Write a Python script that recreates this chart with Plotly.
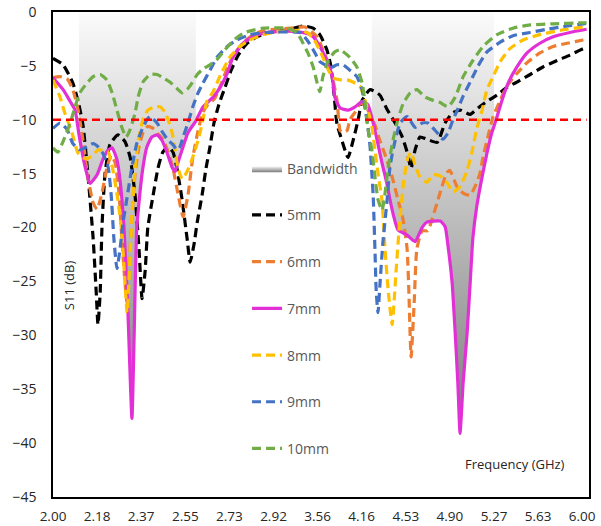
import plotly.graph_objects as go

# ---------------- data ----------------
# x positions are category-axis positions (0 = "2.00", 1 = "2.18", ... 12 = "6.00")
TICK_POS = list(range(13))
TICK_LABELS = ["2.00", "2.18", "2.37", "2.55", "2.73", "2.92", "3.56",
               "4.16", "4.53", "4.90", "5.27", "5.63", "6.00"]

X5 = [0, 0.23, 0.45, 0.57, 0.68, 0.79, 0.91, 0.98, 1.02, 1.07, 1.11, 1.18, 1.29, 1.47, 1.63, 1.75, 1.86, 1.95,
      2.02, 2.09, 2.15, 2.27, 2.38, 2.49, 2.61, 2.72, 2.81, 2.93, 3.04, 3.11, 3.20, 3.27, 3.38, 3.47, 3.56, 3.65,
      3.76, 3.90, 4.04, 4.20, 4.40, 4.63, 4.92, 5.37, 5.67, 5.90, 6.05, 6.21, 6.30, 6.37, 6.44, 6.55, 6.69, 6.80,
      6.92, 7.01, 7.19, 7.41, 7.57, 7.76, 7.91, 8.03, 8.12, 8.21, 8.32, 8.48, 8.71, 8.89, 9.05, 9.23, 9.46, 9.64,
      9.84, 10.07, 10.29, 10.52, 10.82, 11.11, 11.43, 11.72, 12.02, 12.1]
S5 = [-4.3, -4.9, -6.6, -8.3, -10.5, -15, -21, -26, -29, -26, -20, -15, -12.3, -11.4, -12, -13.5, -17, -22,
      -26.6, -24, -20, -17, -14.5, -13, -12.5, -13, -14.5, -17.5, -21, -23.2, -21.5, -19.5, -17, -14.5, -12.5, -10.3,
      -8.6, -7, -5.4, -4, -2.9, -2.3, -1.9, -1.6, -1.3, -1.5, -2.1, -3.5, -5, -7.5, -10.4, -11.9, -13.5, -12,
      -10, -8.2, -7.2, -7.7, -9, -10.3, -11.5, -13, -14.5, -12.8, -11.6, -11.8, -12.1, -10.3, -9.4, -9.1, -9.5, -8.9,
      -8.3, -7.7, -7, -6.5, -5.8, -5.1, -4.5, -4, -3.4, -3.3]

X6 = [0, 0.16, 0.32, 0.45, 0.57, 0.68, 0.79, 0.91, 1.00, 1.11, 1.22, 1.32, 1.41, 1.50, 1.56, 1.63, 1.68, 1.72,
      1.79, 1.86, 1.95, 2.04, 2.15, 2.27, 2.38, 2.49, 2.61, 2.72, 2.83, 2.95, 3.06, 3.17, 3.29, 3.40, 3.51, 3.67,
      3.83, 3.97, 4.13, 4.35, 4.58, 4.81, 5.37, 5.71, 5.99, 6.12, 6.24, 6.35, 6.44, 6.51, 6.58, 6.67, 6.73, 6.85,
      6.96, 7.07, 7.14, 7.30, 7.41, 7.57, 7.71, 7.82, 7.94, 8.03, 8.07, 8.12, 8.19, 8.25, 8.37, 8.50, 8.59, 8.71,
      8.82, 8.93, 9.00, 9.16, 9.30, 9.46, 9.57, 9.68, 9.75, 9.86, 9.98, 10.14, 10.29, 10.52, 10.75, 11.04, 11.34,
      11.66, 12.02, 12.1]
S6 = [-6.1, -6.0, -6.2, -7.2, -9.1, -11.9, -15.3, -17.7, -18.3, -16.8, -14.5, -13.3, -14, -17, -21, -25, -27, -24,
      -19, -15, -12.5, -11.2, -10.6, -10.8, -11.3, -11.8, -13, -14.5, -16.8, -19, -17, -13.5, -11, -9.3, -8.6, -8,
      -6.5, -5, -3.8, -2.7, -2, -1.7, -1.5, -1.4, -2.3, -3.5, -4.7, -6.3, -8.2, -11, -11.2, -11, -10, -9.3,
      -8.5, -8.6, -9.1, -10.5, -11.9, -13.7, -15.6, -17.4, -19.3, -22, -26, -32, -27, -22, -20.3, -20.3, -19.3, -17.7,
      -16.2, -14.9, -14.7, -16.2, -16.8, -17, -16.2, -15, -13.5, -11.6, -9.7, -8.2, -6.9, -5.7, -4.7, -3.8, -3.2,
      -2.9, -2.6, -2.55]

X7 = [0, 0.23, 0.39, 0.50, 0.59, 0.73, 0.84, 1.00, 1.13, 1.25, 1.34, 1.45, 1.52, 1.61, 1.70, 1.79, 1.84, 1.90,
      2.02, 2.13, 2.24, 2.36, 2.47, 2.59, 2.70, 2.77, 2.83, 2.95, 3.06, 3.24, 3.40, 3.63, 3.79, 3.95, 4.08, 4.31,
      4.54, 4.85, 5.15, 5.44, 5.76, 5.90, 6.05, 6.21, 6.33, 6.39, 6.51, 6.69, 6.85, 7.01, 7.14, 7.23, 7.35, 7.46,
      7.57, 7.64, 7.71, 7.82, 8.03, 8.21, 8.37, 8.48, 8.78, 8.89, 8.96, 9.05, 9.12, 9.18, 9.23, 9.30, 9.39, 9.46,
      9.52, 9.61, 9.73, 9.84, 9.95, 10.0, 10.07, 10.18, 10.32, 10.52, 10.75, 11.04, 11.34, 11.72, 12.1]
S7 = [-6.1, -7.2, -8.3, -9.1, -11.4, -14.4, -15.9, -15.1, -13.7, -12.8, -12.6, -13.7, -15.6, -20, -28, -37.7, -30, -20,
      -15, -12.5, -11.6, -11.4, -11.9, -13.1, -14.4, -14.8, -14, -12.5, -11.2, -10.1, -8.8, -7.9, -7, -5.7, -4.2, -2.9,
      -2.3, -1.9, -1.8, -1.8, -2, -2.3, -3.2, -4.5, -6, -7.9, -8.9, -9.1, -8.8, -8.3, -8.6, -9.8, -11.9, -14,
      -15.9, -17.4, -18.7, -20.2, -20.7, -21.3, -20, -19.5, -19.4, -19.9, -21.8, -25.1, -29.8, -34.4, -39.1, -34.4, -29.8, -25.1,
      -21, -18, -15.3, -13.1, -11.2, -10.6, -9.7, -8.2, -6.6, -5.1, -3.8, -2.9, -2.3, -1.9, -1.6]

X8 = [0, 0.16, 0.27, 0.43, 0.57, 0.73, 0.88, 1.02, 1.25, 1.36, 1.47, 1.56, 1.63, 1.68, 1.72, 1.79, 1.86, 1.93,
      2.04, 2.15, 2.31, 2.43, 2.54, 2.61, 2.70, 2.77, 2.83, 2.93, 3.04, 3.15, 3.29, 3.40, 3.49, 3.63, 3.79, 4.01,
      4.24, 4.47, 4.76, 5.15, 5.60, 5.76, 5.90, 6.12, 6.21, 6.35, 6.51, 6.67, 6.80, 6.96, 7.12, 7.23, 7.30, 7.37,
      7.46, 7.53, 7.60, 7.69, 7.78, 7.87, 7.96, 8.05, 8.12, 8.21, 8.32, 8.48, 8.62, 8.78, 8.93, 9.07, 9.23, 9.39,
      9.50, 9.61, 9.73, 9.84, 9.98, 10.14, 10.36, 10.66, 11.04, 11.50, 12.02, 12.1]
S8 = [-6.3, -7.9, -9.4, -11.2, -13.1, -13.6, -13.4, -12.8, -13, -14.7, -17.4, -20.5, -25, -27.9, -25, -19, -14.5, -12,
      -10, -9.1, -8.8, -8.8, -9.3, -10, -11.2, -12.8, -14.4, -15.5, -14.8, -13.7, -11.9, -10, -8.3, -7.4, -5.9, -4.2,
      -3.2, -2.6, -2.1, -1.8, -1.7, -1.9, -2.4, -4.2, -5.1, -6.1, -6.3, -6.3, -6.5, -6.9, -8.8, -10.6, -12.8, -15,
      -17.5, -22.1, -25.8, -29, -24, -19, -15.5, -13.5, -13, -14.2, -15.3, -15.8, -15.1, -15.2, -15.8, -16.7, -16.2, -14.7,
      -13, -10.8, -9.1, -7.2, -6, -4.6, -3.4, -2.6, -2.1, -1.7, -1.4, -1.4]

X9 = [0, 0.16, 0.32, 0.45, 0.61, 0.77, 0.91, 1.02, 1.13, 1.25, 1.32, 1.38, 1.45, 1.52, 1.59, 1.68, 1.79, 1.90,
      2.02, 2.13, 2.20, 2.36, 2.49, 2.61, 2.72, 2.81, 2.88, 2.95, 3.06, 3.17, 3.29, 3.40, 3.56, 3.72, 3.95, 4.17,
      4.47, 4.85, 5.60, 5.76, 5.90, 6.05, 6.17, 6.28, 6.44, 6.58, 6.73, 6.89, 7.01, 7.07, 7.14, 7.19, 7.23, 7.26,
      7.30, 7.33, 7.37, 7.41, 7.48, 7.57, 7.64, 7.71, 7.76, 7.87, 8.03, 8.21, 8.37, 8.50, 8.71, 8.84, 8.96, 9.07,
      9.18, 9.30, 9.46, 9.64, 9.84, 10.14, 10.43, 10.82, 11.20, 11.66, 12.02, 12.1]
S9 = [-10.8, -10.3, -10.9, -12.2, -12.8, -12.5, -12.2, -12.5, -13.1, -14.4, -17, -21, -23.8, -22, -19.5, -17.2, -14.4, -12.2,
      -10.9, -10, -9.7, -10.3, -11.2, -11.9, -12.3, -12.8, -12.5, -11.6, -10.3, -8.8, -7.5, -6.6, -5.4, -4.2, -3.2, -2.6,
      -2.1, -1.9, -1.9, -2.6, -3.5, -4.6, -4.9, -5.2, -4.9, -4.9, -5.4, -6, -7.2, -8.8, -10.6, -12.5, -15, -17,
      -22, -26, -27.9, -25.5, -21.4, -17.7, -14.4, -12.8, -11.9, -10.3, -9.7, -10.7, -10.3, -10.3, -11.2, -11.8, -11.2, -10,
      -9, -7.8, -6.5, -5, -3.7, -2.8, -2.2, -1.9, -1.6, -1.3, -1.1, -1.05]

X10 = [0, 0.11, 0.23, 0.39, 0.50, 0.61, 0.77, 0.91, 1.07, 1.22, 1.34, 1.45, 1.56, 1.66, 1.75, 1.86, 1.93, 2.04,
       2.20, 2.36, 2.49, 2.65, 2.81, 2.93, 3.04, 3.15, 3.27, 3.40, 3.56, 3.72, 3.90, 4.13, 4.35, 4.76, 5.31, 5.53,
       5.67, 5.78, 5.90, 5.99, 6.05, 6.12, 6.24, 6.39, 6.51, 6.73, 6.89, 7.01, 7.07, 7.14, 7.23, 7.30, 7.37, 7.46,
       7.53, 7.60, 7.71, 7.82, 7.94, 8.10, 8.25, 8.44, 8.62, 8.78, 8.96, 9.12, 9.30, 9.52, 9.75, 10.07, 10.43, 10.82,
       11.34, 12.02, 12.1]
S10 = [-12.6, -13, -12, -10.3, -8.8, -7.5, -6.6, -6, -5.8, -6.3, -7.5, -9.1, -10.7, -11.6, -10.9, -9.4, -7.9, -6.5,
       -5.8, -5.8, -6.1, -6.5, -7.1, -7.5, -7.2, -6.6, -5.8, -5.3, -4.9, -4.4, -3.5, -2.5, -1.9, -1.5, -1.5, -1.9,
       -2.9, -3.8, -5.1, -6.6, -7.4, -6, -4.5, -3.7, -3.5, -4.2, -5.1, -6.6, -8.2, -10.8, -12.8, -15.3, -17.4, -18.4,
       -16.8, -14.4, -11.9, -10, -8.5, -7.5, -7.2, -7.9, -8.2, -8.4, -8.8, -7.9, -6, -4.5, -3.2, -2.1, -1.5, -1.2,
       -1.1, -1, -1]

BANDS = [(0.59, 3.24), (7.23, 10.0)]   # operating bands, drawn under the 7mm curve
THRESHOLD = -10
X_LAST = 12.1

SERIES = [
    ("5mm", X5, S5, "#000000", "9px,5px"),
    ("6mm", X6, S6, "#ED7D31", "9px,5px"),
    ("7mm", X7, S7, "#E22FD6", "solid"),
    ("8mm", X8, S8, "#FFC000", "9px,5px"),
    ("9mm", X9, S9, "#4472C4", "9px,5px"),
    ("10mm", X10, S10, "#70AD47", "9px,5px"),
]

# ---------------- figure ----------------
fig = go.Figure()

for i, (lo, hi) in enumerate(BANDS):
    bx = [x for x in X7 if lo <= x <= hi]
    by = [y for x, y in zip(X7, S7) if lo <= x <= hi]
    fig.add_trace(go.Scatter(
        x=bx, y=by, mode="lines", name="Bandwidth",
        line=dict(width=0, shape="spline", smoothing=0.5),
        fill="tozeroy",
        fillgradient=dict(type="vertical", start=-40, stop=0,
                          colorscale=[[0, "#7a7a7a"], [1, "#fbfbfb"]]),
        legendgroup="bw", showlegend=(i == 0), hoverinfo="skip"))

for name, xs, ys, col, dash in SERIES:
    fig.add_trace(go.Scatter(
        x=xs, y=ys, mode="lines", name=name, legendgroup=name,
        line=dict(color=col, width=3.2, dash=dash, shape="spline", smoothing=0.5)))

fig.add_trace(go.Scatter(
    x=[0, X_LAST], y=[THRESHOLD, THRESHOLD], mode="lines", showlegend=False,
    line=dict(color="#FF0000", width=2.5, dash="8px,5px")))

FONT = "Open Sans"
fig.update_layout(
    width=601, height=526,
    margin=dict(l=53, r=12, t=12, b=29, autoexpand=False),
    paper_bgcolor="white", plot_bgcolor="white",
    font=dict(family=FONT, size=14, color="#262626"),
    showlegend=True,
    legend=dict(x=0.362, y=0.71, xanchor="left", yanchor="top",
                bgcolor="rgba(0,0,0,0)", font=dict(size=14, color="#595959"),
                traceorder="grouped", tracegroupgap=25.5),
    xaxis=dict(range=[0, 12.154], tickmode="array", tickvals=TICK_POS, ticktext=TICK_LABELS,
               showgrid=False, zeroline=False, showline=True, linecolor="#000000", linewidth=1.6,
               mirror=True, ticks="", ticklabelstandoff=6, automargin=False,
               tickfont=dict(size=13.5)),
    yaxis=dict(range=[-45, 0], dtick=5, showgrid=False, zeroline=False, showline=True,
               linecolor="#000000", linewidth=1.6, mirror=True, ticks="", ticklabelstandoff=12,
               automargin=False),
    annotations=[
        dict(text="S11 (dB)", xref="paper", yref="paper", x=0.030, y=0.437, showarrow=False,
             xanchor="center", yanchor="middle",
             textangle=-90, font=dict(size=13, color="#262626")),
        dict(text="Frequency (GHz)", xref="paper", yref="paper", x=0.862, y=0.068, showarrow=False,
             xanchor="center", yanchor="middle",
             font=dict(size=13, color="#262626")),
    ],
)

fig.write_html("out.html")
